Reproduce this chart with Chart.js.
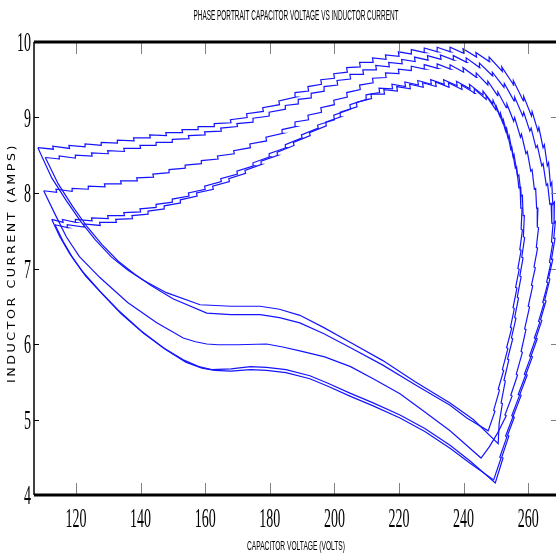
<!DOCTYPE html>
<html>
<head>
<meta charset="utf-8">
<script src="https://cdn.jsdelivr.net/npm/chart.js@4.4.1/dist/chart.umd.min.js"></script>
<style>
  html, body { margin: 0; padding: 0; background: #fff; }
  canvas { display: block; }
</style>
</head>
<body>
<canvas id="chart" width="556" height="554"></canvas>
<script>
var chartTitle = 'PHASE PORTRAIT CAPACITOR VOLTAGE VS INDUCTOR CURRENT';
var xTitle = 'CAPACITOR VOLTAGE (VOLTS)';
var yTitle = 'INDUCTOR CURRENT (AMPS)';
var xTicks = [120, 140, 160, 180, 200, 220, 240, 260];
var yTicks = [4, 5, 6, 7, 8, 9, 10];

// each loop: [capacitor voltage, inductor current]
var loop1 = [[108.2,8.60],
  [113,8.58],[112.8,8.62],[118,8.59],[117.8,8.63],[123,8.61],[122.8,8.65],[128,8.63],[127.8,8.67],
  [133,8.66],[132.8,8.70],[138,8.69],[137.8,8.73],[143,8.73],[142.8,8.77],[148,8.76],[147.8,8.80],
  [153,8.80],[152.8,8.84],[158,8.84],[157.8,8.88],[163,8.88],[162.8,8.92],[168,8.93],[167.8,8.97],
  [173,9.00],[172.8,9.05],[178,9.08],[177.8,9.13],[183,9.17],[182.8,9.22],[188,9.27],[187.8,9.33],
  [192,9.35],[191.8,9.41],[196,9.44],[195.8,9.50],[200,9.52],[199.8,9.58],[204,9.60],[203.8,9.66],
  [208,9.67],[207.8,9.73],[212,9.73],[211.8,9.79],[216,9.77],[215.8,9.83],[220,9.81],[219.8,9.87],
  [224,9.84],[223.8,9.90],[228,9.86],[227.8,9.92],[232,9.87],[231.8,9.93],[236,9.87],[235.8,9.93],
  [240,9.85],[239.8,9.91],[244,9.80],[243.8,9.86],
  [248,9.74],[247.9,9.80],[252,9.61],[251.8,9.67],[255.5,9.43],[255.4,9.49],[258.5,9.22],[258.6,9.28],
  [261,9.02],[261.2,9.08],[263,8.82],[263.3,8.87],[264.6,8.60],[265,8.64],[265.9,8.36],[266.3,8.40],
  [266.9,8.10],[267.3,8.14],[267.6,7.85],[268.1,7.88],[268.0,7.60],[268.4,7.62],[267.9,7.40],[268.3,7.40],
  [267.2,7.12],[267.6,7.12],[266.3,6.87],[266.7,6.86],[265.1,6.58],[265.5,6.57],[263.8,6.32],[264.2,6.31],
  [262.4,6.08],[262.8,6.07],[260.9,5.84],[261.3,5.83],[259.3,5.60],[259.7,5.59],[257.4,5.33],[257.8,5.32],
  [255.3,5.04],[255.7,5.03],[253.6,4.79],[254,4.78],[251.8,4.50],[252.2,4.49],[249.8,4.16],
  [242,4.45],[235.8,4.66],[228,4.88],[220.3,5.06],[212,5.22],[204.8,5.35],[198,5.48],[192.4,5.58],
  [185,5.66],[179,5.69],[174,5.70],[168,5.67],[162,5.66],[158,5.70],[153.2,5.79],[147,5.95],
  [140,6.18],[133,6.45],[127.4,6.70],[122,6.96],[118,7.20],[115,7.42],[112.5,7.65]];

var loop2 = [[110.5,8.47],
  [115,8.45],[114.8,8.49],[120,8.46],[119.8,8.50],[125,8.49],[124.8,8.53],[130,8.52],[129.8,8.56],
  [135,8.55],[134.8,8.59],[140,8.59],[139.8,8.63],[145,8.63],[144.8,8.67],[150,8.67],[149.8,8.71],
  [155,8.72],[154.8,8.76],[160,8.77],[159.8,8.81],[165,8.82],[164.8,8.86],[170,8.88],[169.8,8.92],
  [175,8.94],[174.8,8.99],[180,9.02],[179.8,9.07],[185,9.11],[184.8,9.16],[189,9.18],[188.8,9.24],
  [193,9.26],[192.8,9.32],[197,9.35],[196.8,9.41],[201,9.43],[200.8,9.49],[205,9.51],[204.8,9.57],
  [209,9.57],[208.8,9.63],[213,9.63],[212.8,9.69],[217,9.67],[216.8,9.73],[221,9.71],[220.8,9.77],
  [225,9.74],[224.8,9.80],[229,9.76],[228.8,9.82],[233,9.77],[232.8,9.83],[237,9.76],[236.8,9.82],
  [241,9.73],[240.8,9.79],
  [245,9.66],[244.9,9.72],[249,9.55],[248.9,9.60],[252.5,9.40],[252.6,9.45],[255.6,9.22],[255.8,9.27],
  [258.3,9.02],[258.6,9.07],[260.5,8.82],[260.9,8.86],[262.4,8.60],[262.8,8.63],[264.2,8.36],[264.6,8.39],
  [265.6,8.10],[266,8.12],[266.7,7.85],[267.1,7.86],[267.3,7.60],[267.7,7.60],[267.2,7.35],[267.6,7.34],
  [266.6,7.08],[267,7.07],[265.7,6.82],[266.1,6.81],[264.5,6.55],[264.9,6.54],[263.2,6.30],[263.6,6.29],
  [261.9,6.08],[262.3,6.07],[260.4,5.84],[260.8,5.83],[258.8,5.60],[259.2,5.59],[256.9,5.33],[257.3,5.32],
  [254.9,5.05],[255.3,5.04],[253,4.78],[253.4,4.77],[251.2,4.50],[251.6,4.49],[249.3,4.20],
  [242,4.42],[235.8,4.62],[228,4.84],[220.3,5.02],[212,5.18],[204.8,5.31],[198,5.44],[192.4,5.54],
  [185,5.62],[179,5.65],[174,5.66],[168,5.64],[163,5.65],[159,5.68],[154,5.76],[148,5.92],
  [141,6.14],[134,6.40],[128.4,6.65],[123,6.90],[119,7.14],[116,7.36],[113.5,7.58]];

var loop3 = [[110,8.03],
  [114,8.01],[113.8,8.05],[119,8.02],[118.8,8.06],[124,8.05],[123.8,8.09],[129,8.08],[128.8,8.12],
  [134,8.12],[133.8,8.16],[139,8.16],[138.8,8.20],[144,8.21],[143.8,8.25],[149,8.27],[148.8,8.31],
  [154,8.33],[153.8,8.37],[159,8.39],[158.8,8.43],[164,8.45],[163.8,8.49],[169,8.52],[168.8,8.56],
  [174,8.60],[173.8,8.65],[179,8.69],[178.8,8.74],[184,8.79],[183.8,8.84],[188,8.88],[187.8,8.94],
  [192,8.97],[191.8,9.03],[196,9.07],[195.8,9.13],[200,9.17],[199.8,9.23],[204,9.27],[203.8,9.33],
  [208,9.37],[207.8,9.43],[212,9.46],[211.8,9.52],[216,9.53],[215.8,9.59],[220,9.58],[219.8,9.64],
  [224,9.62],[223.8,9.68],[228,9.64],[227.8,9.70],[232,9.65],[231.8,9.71],[236,9.64],[235.8,9.70],
  [240,9.60],[239.8,9.66],
  [244,9.53],[243.9,9.59],[247.5,9.43],[247.5,9.48],[250.5,9.29],[250.6,9.34],[253.2,9.13],[253.4,9.18],
  [255.5,8.95],[255.8,9.00],[257.6,8.74],[257.9,8.78],[259.3,8.52],[259.7,8.55],[260.8,8.29],[261.2,8.31],
  [261.9,8.05],[262.3,8.06],[262.6,7.80],[263,7.80],[262.8,7.55],[263.2,7.54],[262.5,7.28],[262.9,7.27],
  [261.8,7.02],[262.2,7.01],[261,6.78],[261.4,6.77],[260,6.50],[260.4,6.49],[258.9,6.20],[259.3,6.19],
  [257.8,5.90],[258.2,5.89],[256.3,5.60],[256.7,5.59],[254.6,5.32],[255,5.31],[252.8,5.06],[253.2,5.05],
  [250.5,4.82],[248,4.64],[245.4,4.49],
  [235.8,4.85],[228,5.10],[220.3,5.34],[212,5.54],[205,5.70],[197,5.83],[189.3,5.91],[184,5.96],
  [179,6.00],[170,5.99],[164,5.99],[160.5,6.00],[157,6.03],[153.2,6.08],[145,6.28],[136,6.55],
  [127.4,6.88],[121,7.16],[117,7.42],[113.5,7.72],[110,8.03]];

var loop4 = [[112.5,7.65],
  [116,7.61],[115.8,7.65],[120,7.61],[119.8,7.65],[125,7.63],[124.8,7.67],[130,7.66],[129.8,7.70],
  [135,7.70],[134.8,7.74],[140,7.75],[139.8,7.79],[145,7.81],[144.8,7.85],[150,7.88],[149.8,7.92],
  [155,7.96],[154.8,8.00],[160,8.05],[159.8,8.09],[165,8.15],[164.8,8.19],[170,8.25],[169.8,8.29],
  [175,8.36],[174.8,8.40],[180,8.48],[179.8,8.52],[185,8.60],[184.8,8.64],[190,8.73],[189.8,8.77],
  [195,8.86],[194.8,8.90],[200,8.97],[199.8,9.03],[205,9.11],[204.8,9.17],[210,9.24],[209.8,9.30],
  [214,9.33],[213.8,9.39],[218,9.38],[217.8,9.44],[222,9.41],[221.8,9.47],[226,9.43],[225.8,9.49],
  [230,9.44],[229.8,9.50],[234,9.44],[233.8,9.50],[238,9.42],[237.8,9.48],[242,9.38],[241.8,9.44],
  [246,9.30],[246,9.35],[249,9.18],[249.1,9.23],[251.2,9.02],[251.4,9.06],[253,8.82],[253.3,8.86],
  [254.6,8.58],[254.9,8.61],[256,8.33],[256.4,8.35],[257.1,8.07],[257.5,8.08],[257.7,7.80],[258.1,7.80],
  [257.8,7.52],[258.2,7.51],[257.4,7.25],[257.8,7.24],[256.8,7.00],[257.2,6.99],[256.1,6.75],[256.5,6.74],
  [255.3,6.48],[255.7,6.47],[254.5,6.22],[254.9,6.21],[253.3,5.95],[253.7,5.94],[252,5.66],[252.4,5.65],
  [250.7,5.40],[251.1,5.39],[249.3,5.12],[249.7,5.11],[247.6,4.85],
  [241,5.02],[235.8,5.19],[225,5.46],[215,5.72],[205,5.95],[196.6,6.14],[189.3,6.28],[183,6.35],
  [177,6.39],[168,6.39],[160.5,6.41],[150,6.60],[143,6.78],[138,6.93],[133,7.10],[128,7.32],
  [123.5,7.55],[119,7.82],[114.5,8.12],[110.5,8.47]];

var loop5 = [[113.5,7.58],
  [117.5,7.54],[117.3,7.58],[122.5,7.55],[122.3,7.59],[127.5,7.57],[127.3,7.61],[132.5,7.61],[132.3,7.65],
  [137.5,7.66],[137.3,7.70],[142.5,7.72],[142.3,7.76],[147.5,7.79],[147.3,7.83],[152.5,7.87],[152.3,7.91],
  [157.5,7.96],[157.3,8.00],[162.5,8.05],[162.3,8.09],[167.5,8.15],[167.3,8.19],[172.5,8.26],[172.3,8.30],
  [177.5,8.38],[177.3,8.42],[182.5,8.50],[182.3,8.54],[187.5,8.63],[187.3,8.67],[192.5,8.76],[192.3,8.80],
  [197.5,8.89],[197.3,8.94],[202,9.01],[201.8,9.07],[207,9.14],[206.8,9.20],[211.5,9.25],[211.3,9.31],
  [215.5,9.31],[215.3,9.37],[219.5,9.35],[219.3,9.41],[223.5,9.38],[223.3,9.44],[227.5,9.40],[227.3,9.46],
  [231.5,9.41],[231.3,9.47],[235.5,9.40],[235.3,9.46],[239.5,9.37],[239.3,9.43],[243.5,9.32],[243.3,9.38],
  [247,9.24],[247,9.29],[250,9.10],[250.1,9.15],[252.1,8.93],[252.3,8.97],[253.8,8.72],[254.1,8.76],
  [255.3,8.48],[255.6,8.51],[256.7,8.22],[257.1,8.24],[257.8,7.96],[258.2,7.97],[258.4,7.70],[258.8,7.70],
  [258.5,7.42],[258.9,7.41],[258,7.15],[258.4,7.14],[257.4,6.90],[257.8,6.89],[256.6,6.62],[257,6.61],
  [255.8,6.35],[256.2,6.34],[254.8,6.08],[255.2,6.07],[253.6,5.80],[254,5.79],[252.5,5.52],[252.9,5.51],
  [251.6,5.22],[252,5.21],[251,4.95],[250.7,4.68],
  [243,5.00],[235.8,5.22],[225,5.50],[215,5.78],[205,6.02],[196.6,6.22],[189.3,6.38],[183,6.46],
  [177,6.50],[168,6.50],[158.4,6.52],[148,6.68],[141,6.84],[136,6.98],[131,7.15],[126,7.38],
  [121.5,7.62],[117,7.90],[112.5,8.20],[108.2,8.60]];

var loops = [loop1, loop2, loop3, loop4, loop5];

function toPoints(arr) {
  return arr.map(function(p) { return { x: p[0], y: p[1] }; });
}

// draws text squeezed or stretched horizontally around (x, y)
function drawScaled(ctx, txt, x, y, font, sx, align, base) {
  ctx.save();
  ctx.font = font;
  ctx.textAlign = align || 'center';
  ctx.textBaseline = base || 'middle';
  ctx.translate(x, y);
  ctx.scale(sx, 1);
  ctx.fillText(txt, 0, 0);
  ctx.restore();
}

function fitWidth(ctx, txt, font, width) {
  ctx.font = font;
  return width / ctx.measureText(txt).width;
}

var framePlugin = {
  id: 'frame',
  afterDraw: function(chart) {
    var ctx = chart.ctx, a = chart.chartArea;
    var xs = chart.scales.x, ys = chart.scales.y;
    ctx.save();
    ctx.fillStyle = '#000';

    // tick marks
    ctx.strokeStyle = '#808080';
    ctx.lineWidth = 1;
    xTicks.forEach(function(v) {
      var px = Math.round(xs.getPixelForValue(v)) + 0.5;
      ctx.beginPath(); ctx.moveTo(px, a.top); ctx.lineTo(px, a.top + 12); ctx.stroke();
      ctx.beginPath(); ctx.moveTo(px, a.bottom); ctx.lineTo(px, a.bottom - 12); ctx.stroke();
    });
    yTicks.forEach(function(v) {
      var py = Math.round(ys.getPixelForValue(v)) + 0.5;
      ctx.beginPath(); ctx.moveTo(a.right, py); ctx.lineTo(a.right - 5, py); ctx.stroke();
    });
    ctx.strokeStyle = '#000';
    yTicks.forEach(function(v) {
      var py = Math.round(ys.getPixelForValue(v)) + 0.5;
      ctx.beginPath(); ctx.moveTo(a.left, py); ctx.lineTo(a.left + 5, py); ctx.stroke();
    });

    // frame
    ctx.lineWidth = 3;
    ctx.beginPath(); ctx.moveTo(a.left, a.top); ctx.lineTo(a.right, a.top); ctx.stroke();
    ctx.beginPath(); ctx.moveTo(a.left, a.bottom); ctx.lineTo(a.right, a.bottom); ctx.stroke();
    ctx.lineWidth = 1.5;
    ctx.beginPath(); ctx.moveTo(a.left, a.top); ctx.lineTo(a.left, a.bottom); ctx.stroke();

    // tick labels
    var numFont = '28px "Liberation Serif", "Times New Roman", serif';
    xTicks.forEach(function(v) {
      drawScaled(ctx, String(v), xs.getPixelForValue(v), a.bottom + 32, numFont, 0.5, 'center', 'alphabetic');
    });
    yTicks.forEach(function(v) {
      drawScaled(ctx, String(v), a.left - 3, ys.getPixelForValue(v) + 9, numFont, 0.5, 'right', 'alphabetic');
    });

    // titles
    var tFont = '14px "Liberation Sans", Arial, sans-serif';
    drawScaled(ctx, chartTitle, 296, 16, tFont, fitWidth(ctx, chartTitle, tFont, 205));
    var xFont = '13px "Liberation Sans", Arial, sans-serif';
    drawScaled(ctx, xTitle, 296, 546, xFont, fitWidth(ctx, xTitle, xFont, 98));
    var yFont = '10px "DejaVu Sans", "Liberation Sans", sans-serif';
    ctx.save();
    ctx.translate(12, 263);
    ctx.rotate(-Math.PI / 2);
    ctx.letterSpacing = '2px';
    drawScaled(ctx, yTitle, 0, 0, yFont, fitWidth(ctx, yTitle, yFont, 240));
    ctx.restore();

    ctx.restore();
  }
};

var ctx = document.getElementById('chart').getContext('2d');
new Chart(ctx, {
  type: 'scatter',
  data: {
    datasets: loops.map(function(l) {
      return {
        data: toPoints(l),
        showLine: true,
        borderColor: 'rgb(20,20,255)',
        borderWidth: 1.2,
        pointRadius: 0,
        fill: false,
        tension: 0
      };
    })
  },
  options: {
    responsive: false,
    animation: false,
    layout: { padding: { left: 34, top: 42, right: 0, bottom: 59 } },
    plugins: { legend: { display: false }, tooltip: { enabled: false }, title: { display: false } },
    scales: {
      x: { type: 'linear', display: false, min: 107, max: 268.6 },
      y: { type: 'linear', display: false, min: 4, max: 10 }
    }
  },
  plugins: [framePlugin]
});
</script>
</body>
</html>
